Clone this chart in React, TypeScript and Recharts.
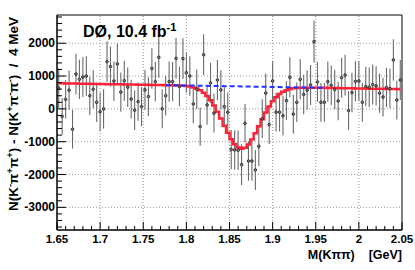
import React from 'react';
import {
  ComposedChart,
  Line,
  Scatter,
  ErrorBar,
  XAxis,
  YAxis,
  ReferenceLine,
  ReferenceArea,
} from 'recharts';

// histogram binning: 4 MeV bins from 1.65 GeV
const binStart = 1.65;
const binWidth = 0.004;

// N(K-pi+pi+) - N(K+pi-pi-) per bin
const counts = [
  630, -230, 290, 570, -620, 1060, 900, 970, 1000, 400,
  600, 200, -90, 0, 1440, 1290, 850, 1370, 510, 860,
  660, 300, -40, 220, 70, 580, 375, 1230, 830, 1570,
  0, 400, 830, 830, 1540, 680, 1530, 1100, 1000, 150,
  600, -540, 1650, 120, 790, -130, 880, 580, 70, -100,
  -1240, -1250, -1260, -1700, -440, -1590, -1590, -1860, -1140, -300,
  480, -480, 850, -100, -100, -210, 250, 960, -160, 200,
  900, 440, 570, 730, 2050, 820, 200, 200, 830, 720,
  590, 240, 950, 1030, -50, 500, 840, 850, 200, 680,
  660, 740, 700, 480, 360, 650, 620, 1490, 270, 880,
];

const errors = [
  600, 560, 580, 600, 590, 620, 600, 610, 600, 590,
  580, 600, 590, 600, 620, 610, 600, 620, 600, 610,
  600, 590, 600, 580, 600, 610, 590, 620, 600, 620,
  590, 600, 610, 600, 620, 600, 620, 610, 600, 590,
  600, 580, 620, 600, 610, 590, 610, 600, 590, 600,
  600, 600, 600, 620, 590, 600, 600, 610, 600, 590,
  600, 590, 610, 590, 590, 600, 590, 610, 590, 600,
  610, 600, 600, 610, 640, 610, 590, 590, 610, 600,
  600, 590, 610, 620, 590, 600, 610, 610, 590, 600,
  600, 610, 600, 600, 590, 600, 600, 630, 590, 610,
];

// fitted function, per bin
const fitValues = [
  779, 777, 775, 774, 772, 770, 768, 767, 765, 763,
  761, 759, 758, 756, 754, 752, 750, 749, 747, 745,
  743, 741, 740, 738, 736, 734, 732, 731, 729, 727,
  725, 723, 722, 719, 715, 711, 704, 695, 679, 655,
  618, 566, 491, 392, 263, 103, -85, -294, -514, -730,
  -925, -1080, -1180, -1216, -1184, -1087, -936, -744, -532, -316,
  -110, 74, 231, 356, 452, 523, 571, 605, 625, 637,
  643, 646, 646, 647, 646, 644, 642, 640, 639, 637,
  635, 633, 631, 630, 628, 626, 624, 622, 621, 619,
  617, 615, 613, 612, 610, 608, 606, 604, 603, 601,
];

// background-only component, drawn dashed under the signal region
const bkgFirstBin = 31;
const bkgValues = [
  723, 722, 720, 718, 716, 714, 713, 711, 709, 707,
  705, 703, 702, 700, 698, 696, 695, 693, 691, 689,
  687, 686, 684, 682, 680, 678, 677, 675, 673, 671,
  669, 668, 666, 664, 662, 660, 659, 657, 655, 653,
  651, 649, 648, 646, 644, 642, 640,
];

const xMajorTicks = [1.65, 1.7, 1.75, 1.8, 1.85, 1.9, 1.95, 2, 2.05];
const yMajorTicks = [-3000, -2000, -1000, 0, 1000, 2000];
const yDomain = [-3690, 2860];

const xTicks: number[] = [];
xMajorTicks.forEach((t, i) => {
  xTicks.push(t);
  if (i < xMajorTicks.length - 1) {
    for (let k = 1; k < 5; k++) xTicks.push(+(t + k * 0.01).toFixed(3));
  }
});
const yTicks: number[] = [];
for (let v = -3600; v <= 2800; v += 200) yTicks.push(v);

const rows = counts.map((y, i) => ({
  x: +(binStart + (i + 0.5) * binWidth).toFixed(4),
  y,
  err: errors[i],
  fit: fitValues[i],
  bkg:
    i >= bkgFirstBin && i < bkgFirstBin + bkgValues.length
      ? bkgValues[i - bkgFirstBin]
      : null,
}));

const font = '"Liberation Sans", Arial, Helvetica, sans-serif';

const isMajorX = (v: number) => xMajorTicks.some((m) => Math.abs(m - v) < 1e-6);

function XTick(props: any) {
  const { x, y, payload } = props;
  const v = payload.value;
  const major = isMajorX(v);
  return (
    <g>
      <line x1={x} x2={x} y1={y} y2={y - (major ? 8 : 4)} stroke="#000" />
      {major && (
        <text x={x} y={y + 12.5} textAnchor="middle" fontSize={11.5} fontWeight="bold" fontFamily={font} fill="#000">
          {String(+v.toFixed(2))}
        </text>
      )}
    </g>
  );
}

function YTick(props: any) {
  const { x, y, payload } = props;
  const v = payload.value;
  const major = yMajorTicks.includes(v);
  return (
    <g>
      <line x1={x} x2={x + (major ? 9 : 5)} y1={y} y2={y} stroke="#000" />
      {major && (
        <text x={x - 2} y={y + 4} textAnchor="end" fontSize={12} fontWeight="bold" fontFamily={font} fill="#000">
          {String(v)}
        </text>
      )}
    </g>
  );
}

function Marker(props: any) {
  const { cx, cy } = props;
  return <circle cx={cx} cy={cy} r={1.3} fill="#888" stroke="#222" strokeWidth={0.9} />;
}

// y title pieces: [text, superscript?]
const yTitle: [string, boolean][] = [
  ['N(K', false], ['-', true], ['π', false], ['+', true], ['π', false], ['+', true],
  [') - N(K', false], ['+', true], ['π', false], ['-', true], ['π', false], ['-', true],
  [')  /  4 MeV', false],
];

function SupText({ parts, size }: { parts: [string, boolean][]; size: number }) {
  let lift = 0;
  return (
    <>
      {parts.map(([t, sup], i) => {
        const target = sup ? -size * 0.4 : 0;
        const dy = target - lift;
        lift = target;
        return (
          <tspan key={i} dy={dy} fontSize={sup ? size * 0.7 : size}>
            {t}
          </tspan>
        );
      })}
    </>
  );
}

export default function App() {
  return (
    <div style={{ position: 'absolute', left: 0, top: 0, width: 415, height: 270, background: '#fff' }}>
      <ComposedChart width={415} height={270} data={rows} margin={{ top: 15, right: 13, bottom: 0, left: 7 }}>
        <XAxis
          type="number"
          dataKey="x"
          domain={[1.65, 2.05]}
          ticks={xTicks}
          interval={0}
          tickSize={0}
          tickMargin={0}
          tick={(p: any) => <XTick {...p} />}
          height={40}
          stroke="#000"
          allowDataOverflow
        />
        <YAxis
          type="number"
          domain={yDomain}
          ticks={yTicks}
          interval={0}
          tickSize={0}
          tickMargin={0}
          tick={(p: any) => <YTick {...p} />}
          width={50}
          stroke="#000"
          allowDataOverflow
        />
        {xMajorTicks.slice(1, -1).map((t) => (
          <ReferenceLine key={'gx' + t} x={t} stroke="#999" strokeDasharray="1 2" />
        ))}
        {yMajorTicks.map((t) => (
          <ReferenceLine key={'gy' + t} y={t} stroke="#999" strokeDasharray="1 2" />
        ))}
        <Scatter dataKey="y" shape={(p: any) => <Marker {...p} />} isAnimationActive={false}>
          <ErrorBar dataKey="err" direction="y" width={0} stroke="#6a6a6a" strokeWidth={1.1} isAnimationActive={false} />
        </Scatter>
        <Line type="step" dataKey="fit" stroke="#ff2236" strokeWidth={2.5} dot={false} isAnimationActive={false} />
        <Line
          type="linear"
          dataKey="bkg"
          stroke="#2236ff"
          strokeWidth={2}
          strokeDasharray="5 3"
          dot={false}
          connectNulls={false}
          isAnimationActive={false}
        />
        <ReferenceArea x1={1.65} x2={2.05} y1={yDomain[0]} y2={yDomain[1]} fill="none" fillOpacity={0} stroke="#000" strokeWidth={1} />
      </ComposedChart>
      <svg width={415} height={270} style={{ position: 'absolute', left: 0, top: 0, pointerEvents: 'none' }}>
        <text x={83} y={37} fontSize={16} fontWeight="bold" fontFamily={font} fill="#000">
          <SupText parts={[['DØ, 10.4 fb', false], ['-1', true]]} size={16} />
        </text>
        <text
          transform="translate(18,114) rotate(-90)"
          textAnchor="middle"
          fontWeight="bold"
          fontFamily={font}
          fill="#000"
          style={{ whiteSpace: 'pre' }}
        >
          <SupText parts={yTitle} size={13.5} />
        </text>
        <text x={402} y={259} textAnchor="end" fontSize={12.5} fontWeight="bold" fontFamily={font} fill="#000" style={{ whiteSpace: 'pre' }}>
          {'M(Kππ)    [GeV]'}
        </text>
      </svg>
    </div>
  );
}
